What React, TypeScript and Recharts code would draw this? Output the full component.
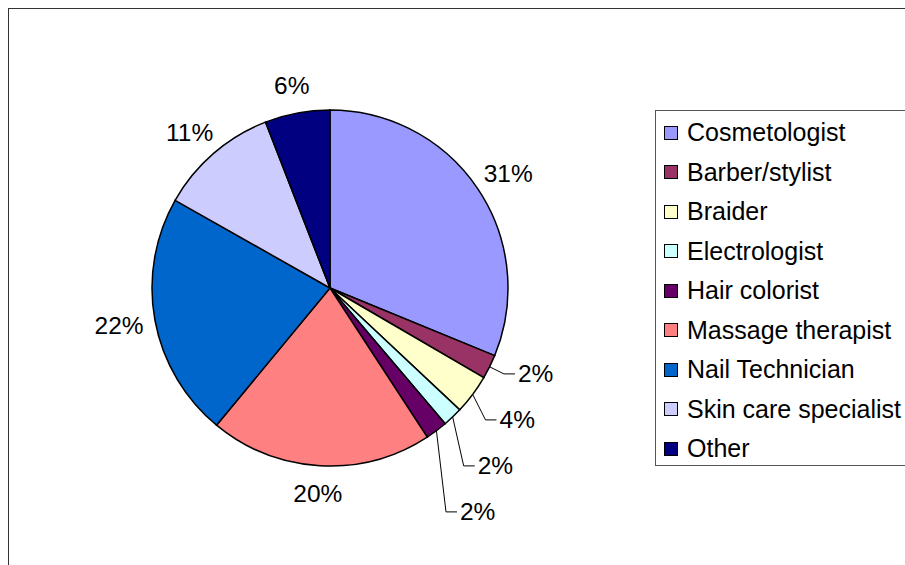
import React from "react";
import { PieChart, Pie, Cell, Legend } from "recharts";

const categories = [
  "Cosmetologist",
  "Barber/stylist",
  "Braider",
  "Electrologist",
  "Hair colorist",
  "Massage therapist",
  "Nail Technician",
  "Skin care specialist",
  "Other",
];
const shares = [31.2, 2.2, 3.6, 1.8, 2.0, 20.2, 22.2, 10.9, 5.9];
const colors = [
  "#9999FF",
  "#993366",
  "#FFFFCC",
  "#CCFFFF",
  "#660066",
  "#FF8080",
  "#0066CC",
  "#CCCCFF",
  "#000080",
];

const data = categories.map((name, i) => ({ name, value: shares[i] }));

const FONT = "'Liberation Sans', Arial, sans-serif";
const FS = 24.5;
const LFS = 25;
const RAD = Math.PI / 180;
const SMALL = 0.05;

function smallLayout(cx: number, cy: number, r: number) {
  const total = shares.reduce((a, b) => a + b, 0);
  let cum = 0;
  const items: { i: number; dx: number; dy: number; y: number }[] = [];
  shares.forEach((v, i) => {
    const mid = 90 - (360 * (cum + v / 2)) / total;
    cum += v;
    if (v / total < SMALL) {
      const dx = Math.cos(-mid * RAD);
      const dy = Math.sin(-mid * RAD);
      items.push({ i, dx, dy, y: cy + dy * (r + 16) });
    }
  });
  items.sort((a, b) => a.y - b.y);
  for (let k = 1; k < items.length; k++) {
    if (items[k].y < items[k - 1].y + 46) items[k].y = items[k - 1].y + 46;
  }
  const map: Record<number, { x: number; y: number }> = {};
  items.forEach((it) => {
    map[it.i] = { x: cx + it.dx * (r + 16), y: it.y };
  });
  return map;
}

const renderLabel = (props: any) => {
  const { cx, cy, outerRadius, midAngle, percent, index } = props;
  const dx = Math.cos(-midAngle * RAD);
  const dy = Math.sin(-midAngle * RAD);
  const text = `${Math.round(percent * 100)}%`;
  if (percent >= SMALL) {
    const digits = text.length - 1;
    const w = FS * (digits * 0.556 + 0.889);
    const h = 32;
    const g = 12;
    const x = cx + dx * (outerRadius + g) + (dx * w) / 2;
    const y = cy + dy * (outerRadius + g) + (dy * h) / 2;
    return (
      <text
        key={`l${index}`}
        x={x}
        y={y}
        textAnchor="middle"
        dominantBaseline="central"
        fontFamily={FONT}
        fontSize={FS}
        fill="#000"
      >
        {text}
      </text>
    );
  }
  const lay = smallLayout(cx, cy, outerRadius)[index];
  const sx = cx + dx * outerRadius;
  const sy = cy + dy * outerRadius;
  const ex = lay.x + 11;
  return (
    <g key={`l${index}`}>
      <polyline
        points={`${sx},${sy} ${lay.x},${lay.y} ${ex},${lay.y}`}
        fill="none"
        stroke="#000"
        strokeWidth={1}
      />
      <text
        x={ex + 3}
        y={lay.y}
        textAnchor="start"
        dominantBaseline="central"
        fontFamily={FONT}
        fontSize={FS}
        fill="#000"
      >
        {text}
      </text>
    </g>
  );
};

const renderLegend = () => (
  <div
    style={{
      boxSizing: "border-box",
      width: 270,
      height: 356,
      border: "1px solid #555",
      background: "#fff",
      paddingTop: 2,
      fontFamily: FONT,
      fontSize: LFS,
    }}
  >
    {categories.map((c, i) => (
      <div
        key={c}
        style={{
          height: 39.5,
          display: "flex",
          alignItems: "center",
          whiteSpace: "nowrap",
          color: "#000",
        }}
      >
        <span
          style={{
            display: "inline-block",
            boxSizing: "border-box",
            width: 14,
            height: 14,
            marginLeft: 8,
            marginRight: 9,
            background: colors[i],
            border: "1px solid #000",
          }}
        />
        <span>{c}</span>
      </div>
    ))}
  </div>
);

export default function App() {
  return (
    <>
      <style>{"html{overflow:hidden} body{margin-right:0;margin-bottom:0}"}</style>
      <div
        style={{
          width: 896,
          height: 556,
          overflow: "hidden",
          borderLeft: "1px solid #333",
          borderTop: "1px solid #333",
          background: "#fff",
        }}
      >
        <PieChart
          width={960}
          height={556}
          margin={{ top: 0, left: 0, right: 0, bottom: 0 }}
        >
          <Pie
            data={data}
            dataKey="value"
            nameKey="name"
            cx={321}
            cy={279}
            outerRadius={178}
            startAngle={90}
            endAngle={-270}
            stroke="#000"
            strokeWidth={1.5}
            label={renderLabel}
            labelLine={false}
            isAnimationActive={false}
          >
            {data.map((d, i) => (
              <Cell key={d.name} fill={colors[i]} />
            ))}
          </Pie>
          <Legend
            layout="vertical"
            align="right"
            verticalAlign="middle"
            content={renderLegend}
            wrapperStyle={{ position: "absolute", left: 646, top: 101, width: 270, height: 356 }}
          />
        </PieChart>
      </div>
    </>
  );
}
